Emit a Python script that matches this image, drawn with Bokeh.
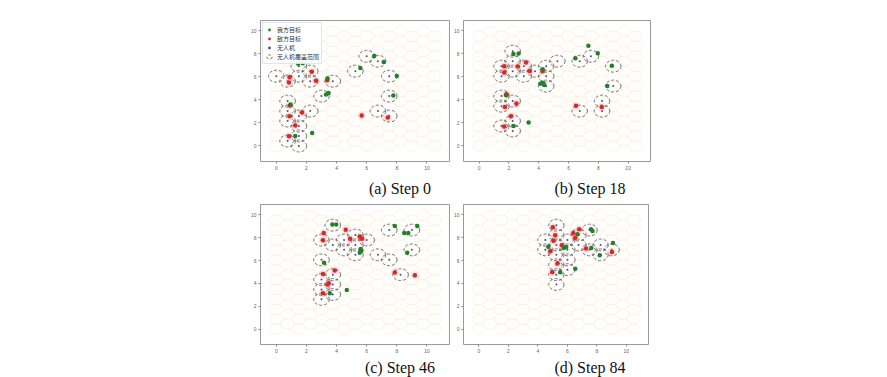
import numpy as np
from bokeh.plotting import figure
from bokeh.models import Spacer, Div, Legend, LegendItem
from bokeh.layouts import row, column
from bokeh.embed import file_html
from bokeh.resources import INLINE

# ---------------- data ----------------
captions = ["(a) Step 0", "(b) Step 18", "(c) Step 46", "(d) Step 84"]
legend_labels = ["我方目标", "敌方目标", "无人机", "无人机覆盖范围"]
ticks = [0, 2, 4, 6, 8, 10]

# UAV positions (coverage circle centres)
a_uav_x = [0.0, 0.75, 1.5, 1.5, 2.25, 2.25, 3.75, 3.0, 5.25, 6.0, 6.75, 7.5, 7.5, 6.75, 7.5,
           0.75, 0.75, 0.75, 1.5, 2.25, 1.5, 1.5, 0.75, 1.5]
a_uav_y = [6.06, 5.63, 6.93, 6.06, 6.5, 5.63, 5.63, 4.33, 6.5, 7.79, 7.36, 6.06, 4.33, 3.03, 2.6,
           3.9, 3.03, 2.17, 2.6, 3.03, 1.73, 0.87, 0.43, 0.0]
a_own_x = [1.45, 1.75, 3.4, 3.3, 3.47, 5.58, 6.5, 7.13, 8.0, 7.77, 2.38, 1.26, 0.95]
a_own_y = [7.15, 7.18, 5.87, 4.48, 4.6, 6.77, 7.82, 7.3, 6.08, 4.39, 1.13, 0.87, 3.6]
a_enemy_x = [0.88, 0.84, 2.36, 2.63, 3.38, 0.9, 1.7, 0.88, 1.26, 0.84, 5.67, 7.4]
a_enemy_y = [5.96, 5.52, 6.45, 5.67, 5.7, 3.52, 2.9, 2.59, 1.77, 0.84, 2.65, 2.47]

b_uav_x = [2.25, 1.5, 1.5, 2.25, 2.25, 3.0, 3.0, 3.75, 4.5, 4.5, 4.5, 5.25, 6.75, 7.5, 6.75,
           9.0, 9.0, 8.25, 8.25, 1.5, 1.5, 2.25, 1.5, 2.25, 2.25]
b_uav_y = [8.23, 6.93, 6.06, 7.36, 6.5, 6.93, 6.06, 6.5, 6.93, 6.06, 5.2, 7.36, 3.03, 7.79, 7.36,
           6.93, 5.2, 3.9, 3.03, 4.33, 3.46, 3.9, 1.73, 2.17, 1.3]
b_own_x = [2.3, 2.65, 7.33, 7.96, 6.46, 8.9, 8.6, 4.26, 4.37, 4.26, 1.8, 2.31, 3.32, 4.1]
b_own_y = [8.0, 8.03, 8.7, 8.06, 7.62, 6.96, 5.22, 5.5, 5.3, 6.67, 4.43, 1.74, 2.03, 5.4]
b_enemy_x = [1.68, 1.68, 3.14, 3.4, 4.26, 1.73, 2.5, 2.13, 1.68, 6.5, 8.23, 1.84, 2.6]
b_enemy_y = [6.93, 6.38, 7.25, 6.52, 6.52, 3.39, 3.68, 2.58, 1.68, 3.5, 3.39, 4.49, 6.9]

c_uav_x = [3.75, 3.0, 3.0, 3.75, 4.5, 4.5, 5.25, 5.25, 5.25, 6.0, 6.75, 7.5, 7.5, 9.0, 9.0,
           8.25, 3.0, 3.0, 3.0, 3.75, 3.75, 3.75]
c_uav_y = [9.09, 7.79, 6.06, 7.36, 7.79, 6.93, 8.23, 7.36, 6.5, 7.79, 6.5, 6.06, 8.66, 8.66, 6.93,
           4.76, 4.33, 3.46, 2.6, 4.76, 3.9, 3.03]
c_own_x = [3.72, 3.98, 7.87, 8.49, 8.76, 9.36, 8.69, 5.54, 5.65, 3.17, 3.55, 4.68, 5.6]
c_own_y = [9.16, 9.16, 9.01, 8.4, 8.4, 9.01, 6.67, 6.67, 6.87, 5.8, 3.13, 3.42, 7.0]
c_enemy_x = [3.15, 3.1, 4.61, 4.9, 5.7, 3.1, 3.88, 3.48, 3.1, 7.87, 9.2, 5.54, 3.4]
c_enemy_y = [8.4, 7.77, 8.7, 7.91, 7.91, 4.81, 5.13, 4.0, 3.13, 4.96, 4.72, 8.1, 3.9]

d_uav_x = [5.25, 5.25, 5.25, 5.25, 5.25, 5.25, 5.25, 4.5, 4.5, 6.0, 6.0, 6.0, 6.0, 6.75, 6.75,
           7.5, 7.5, 8.25, 8.25, 9.0]
d_uav_y = [9.09, 8.23, 7.36, 6.5, 5.63, 4.76, 3.9, 7.79, 6.93, 7.79, 6.93, 6.06, 5.2, 8.23, 7.36,
           8.66, 6.93, 7.36, 6.5, 6.93]
d_own_x = [7.6, 7.7, 6.69, 7.62, 8.19, 9.09, 6.53, 5.51, 5.92, 5.75, 4.7]
d_own_y = [8.73, 8.58, 8.3, 7.1, 6.45, 7.54, 5.27, 4.97, 7.19, 7.1, 7.2]
d_enemy_x = [5.01, 5.17, 5.06, 6.53, 6.8, 7.26, 9.02, 4.83, 5.33, 4.97, 5.62, 6.4]
d_enemy_y = [8.9, 8.22, 7.72, 7.99, 8.73, 7.04, 6.75, 6.8, 5.77, 4.97, 7.34, 8.4]

HEX_R = 0.5          # hex cell radius (flat-top)
COVER_R = 0.52       # coverage radius
N_COLS, N_ROWS = 15, 12

# ---------------- helpers ----------------
def hex_grid():
    xs, ys = [], []
    ang = np.deg2rad(np.arange(0, 360, 60))
    for i in range(N_COLS):
        for j in range(N_ROWS):
            cx = 1.5 * HEX_R * i
            cy = np.sqrt(3) * HEX_R * (j + 0.5 * (i % 2))
            xs.append(list(cx + HEX_R * np.cos(ang)))
            ys.append(list(cy + HEX_R * np.sin(ang)))
    return xs, ys

HX, HY = hex_grid()


def panel(ux, uy, ox, oy, ex, ey, fw, fh, mbl, mbr, mbt, mbb, legend=False):
    p = figure(frame_width=fw, frame_height=fh, min_border_left=mbl, min_border_right=mbr,
               min_border_top=mbt, min_border_bottom=mbb, x_range=(-1.05, 11.5),
               y_range=(-1.35, 10.9), output_backend="svg", toolbar_location=None,
               margin=0)
    p.xgrid.visible = False
    p.ygrid.visible = False
    p.outline_line_color = "#9a9a9a"
    p.outline_line_width = 1
    p.background_fill_color = "white"
    p.border_fill_color = "white"
    for ax in (p.xaxis[0], p.yaxis[0]):
        ax.ticker = ticks
        ax.axis_line_color = None
        ax.major_tick_line_color = "#888888"
        ax.major_tick_out = 2
        ax.major_tick_in = 0
        ax.minor_tick_line_color = None
        ax.major_label_text_font_size = "5px"
        ax.major_label_text_color = "#666666"
        ax.major_label_standoff = 2
    p.patches(HX, HY, fill_color="#fffefa", line_color="#f3ede0", line_width=0.6)
    r_cov = p.ellipse(ux, uy, width=2 * COVER_R, height=2 * COVER_R, fill_color=None,
                      line_color="#555555", line_dash="3 2", line_width=0.8)
    r_uav = p.scatter(ux, uy, size=2, color="#4a4aa0", line_color=None)
    p.scatter(ex, ey, size=8, color="#e57070", alpha=0.2, line_color=None)
    r_en = p.scatter(ex, ey, size=4.5, color="#d02a2a", line_color=None)
    r_own = p.scatter(ox, oy, size=4.5, color="#23802a", line_color=None)
    if legend:
        lg = Legend(items=[LegendItem(label=legend_labels[0], renderers=[r_own]),
                           LegendItem(label=legend_labels[1], renderers=[r_en]),
                           LegendItem(label=legend_labels[2], renderers=[r_uav]),
                           LegendItem(label=legend_labels[3], renderers=[r_cov])],
                    location="top_left", label_text_font="Noto Sans CJK SC",
                    label_text_font_size="6px", label_text_color="#333333",
                    glyph_width=8, glyph_height=7,
                    label_height=7, label_standoff=4, spacing=0, padding=2, margin=2,
                    border_line_color="#cccccc", background_fill_alpha=0.9)
        p.add_layout(lg)
    return p


def cap(txt, pad):
    return Div(text=('<div style="font-family:\'Liberation Serif\';font-size:16px;'
                     'line-height:16px;text-align:center;width:120px;padding-top:%dpx;'
                     'color:#111">%s</div>' % (pad, txt)),
               width=120, height=16 + pad, margin=0)


fa = panel(a_uav_x, a_uav_y, a_own_x, a_own_y, a_enemy_x, a_enemy_y, 189, 141, 14, 1, 20, 12, legend=True)
fb = panel(b_uav_x, b_uav_y, b_own_x, b_own_y, b_enemy_x, b_enemy_y, 187, 141, 11, 10, 20, 12)
fc = panel(c_uav_x, c_uav_y, c_own_x, c_own_y, c_enemy_x, c_enemy_y, 189, 140, 14, 1, 7, 12)
fd = panel(d_uav_x, d_uav_y, d_own_x, d_own_y, d_enemy_x, d_enemy_y, 185, 140, 13, 10, 7, 12)

top = row(Spacer(width=246, height=173, margin=0), fa, fb, spacing=0)
cap_top = row(Spacer(width=340, height=24, margin=0), cap(captions[0], 8),
              Spacer(width=70, height=24, margin=0), cap(captions[1], 8), spacing=0)
bottom = row(Spacer(width=246, height=159, margin=0), fc, fd, spacing=0)
cap_bot = row(Spacer(width=340, height=20, margin=0), cap(captions[2], 4),
              Spacer(width=70, height=20, margin=0), cap(captions[3], 4), spacing=0)
layout = column(top, cap_top, bottom, cap_bot, spacing=0)

open("out.html", "w").write(file_html(layout, INLINE))
